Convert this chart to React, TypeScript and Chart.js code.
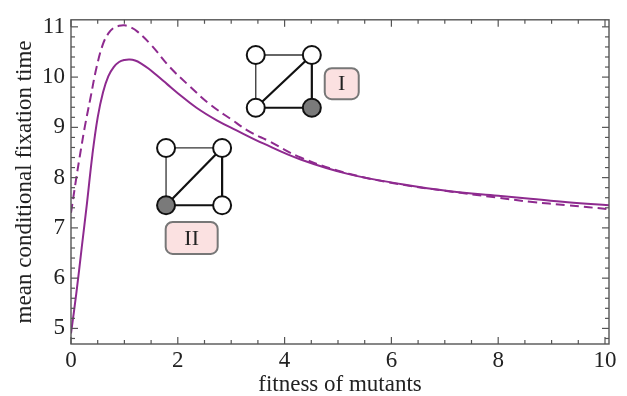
import React, { useEffect, useRef } from "react";
import { Chart, registerables } from "chart.js";

Chart.register(...registerables);

// ---- data ----
const solidX = [0, 0.1, 0.2, 0.3, 0.4, 0.5, 0.6, 0.7, 0.8, 0.9, 1.0, 1.1, 1.2, 1.3, 1.45, 1.6, 1.8, 2.0, 2.35, 2.73, 3.1, 3.6, 4.3, 5.2, 6.2, 7.1, 8.0, 8.6, 9.3, 10.1];
const solidY = [4.9, 5.7, 6.6, 7.5, 8.45, 9.2, 9.7, 10.02, 10.2, 10.3, 10.34, 10.35, 10.33, 10.28, 10.17, 10.04, 9.86, 9.68, 9.39, 9.14, 8.94, 8.68, 8.36, 8.07, 7.87, 7.73, 7.64, 7.58, 7.51, 7.45];

const dashedX = [0, 0.05, 0.1, 0.15, 0.2, 0.26, 0.36, 0.48, 0.6, 0.7, 0.8, 0.9, 1.0, 1.1, 1.25, 1.5, 1.85, 2.2, 2.6, 3.0, 3.35, 3.7, 4.3, 5.2, 6.2, 7.0, 8.0, 8.6, 9.3, 10.1];
const dashedY = [7.3, 7.65, 8.0, 8.33, 8.65, 9.02, 9.56, 10.2, 10.66, 10.87, 10.98, 11.02, 11.03, 11.0, 10.9, 10.64, 10.2, 9.84, 9.46, 9.16, 8.91, 8.73, 8.4, 8.08, 7.86, 7.74, 7.6, 7.52, 7.45, 7.37];

const xTickStep = 2;
const yTickStep = 1;
const xLabel = "fitness of mutants";
const yLabel = "mean conditional fixation time";
const graphLabels = ["I", "II"];

// ---- layout / style (not data) ----
const X_MIN = 0;
const X_MAX = 10.075;
const Y_MIN = 4.69;
const Y_MAX = 11.14;
const X_MINOR = 0.5;
const Y_MINOR = 0.2;
const FONT = "'Liberation Serif', 'DejaVu Serif', serif";
const PURPLE = "#8e2a8f";
const TEXT = "#222";

// inset graphs positioned in data coordinates
const insets = [
  {
    left: 3.46, right: 4.51, top: 10.44, bottom: 9.39,
    grayNode: "br",
    box: { cx: 5.07, cy: 9.87, w: 34, h: 31 },
  },
  {
    left: 1.78, right: 2.83, top: 8.59, bottom: 7.45,
    grayNode: "bl",
    box: { cx: 2.26, cy: 6.8, w: 52, h: 32 },
  },
];

const decoPlugin = {
  id: "decoPlugin",
  afterDatasetsDraw(chart: any) {
    const { ctx, scales } = chart;
    const xs = scales.x;
    const ys = scales.y;
    ctx.save();
    insets.forEach((g, gi) => {
      const l = xs.getPixelForValue(g.left);
      const r = xs.getPixelForValue(g.right);
      const t = ys.getPixelForValue(g.top);
      const b = ys.getPixelForValue(g.bottom);
      const nodes: Record<string, [number, number]> = {
        tl: [l, t], tr: [r, t], bl: [l, b], br: [r, b],
      };
      const edge = (a: string, c: string, w: number, col: string) => {
        ctx.beginPath();
        ctx.moveTo(nodes[a][0], nodes[a][1]);
        ctx.lineTo(nodes[c][0], nodes[c][1]);
        ctx.lineWidth = w;
        ctx.strokeStyle = col;
        ctx.stroke();
      };
      edge("tl", "tr", 1.3, "#333");
      edge("tl", "bl", 1.3, "#333");
      edge("tr", "br", 2.2, "#111");
      edge("bl", "br", 2.2, "#111");
      edge("bl", "tr", 2.2, "#111");
      Object.keys(nodes).forEach((k) => {
        ctx.beginPath();
        ctx.arc(nodes[k][0], nodes[k][1], 9, 0, Math.PI * 2);
        ctx.fillStyle = k === g.grayNode ? "#7a7a7a" : "#fff";
        ctx.fill();
        ctx.lineWidth = 2;
        ctx.strokeStyle = "#111";
        ctx.stroke();
      });
      // label box
      const cx = xs.getPixelForValue(g.box.cx);
      const cy = ys.getPixelForValue(g.box.cy);
      const w = g.box.w;
      const h = g.box.h;
      const rad = 7;
      const x0 = cx - w / 2;
      const y0 = cy - h / 2;
      ctx.beginPath();
      ctx.moveTo(x0 + rad, y0);
      ctx.arcTo(x0 + w, y0, x0 + w, y0 + h, rad);
      ctx.arcTo(x0 + w, y0 + h, x0, y0 + h, rad);
      ctx.arcTo(x0, y0 + h, x0, y0, rad);
      ctx.arcTo(x0, y0, x0 + w, y0, rad);
      ctx.closePath();
      ctx.fillStyle = "#fbe1e1";
      ctx.fill();
      ctx.lineWidth = 2;
      ctx.strokeStyle = "#777";
      ctx.stroke();
      ctx.fillStyle = TEXT;
      ctx.font = `22px ${FONT}`;
      ctx.textAlign = "center";
      ctx.textBaseline = "middle";
      ctx.fillText(graphLabels[gi], cx, cy + 1);
    });
    ctx.restore();
  },
  afterDraw(chart: any) {
    const { ctx, chartArea: a, scales } = chart;
    const xs = scales.x;
    const ys = scales.y;
    ctx.save();
    ctx.strokeStyle = "#555";
    ctx.lineWidth = 1.2;
    const seg = (x1: number, y1: number, x2: number, y2: number) => {
      ctx.beginPath();
      ctx.moveTo(x1, y1);
      ctx.lineTo(x2, y2);
      ctx.stroke();
    };
    const kx0 = Math.ceil(X_MIN / X_MINOR - 1e-9);
    const kx1 = Math.floor(X_MAX / X_MINOR + 1e-9);
    const perX = Math.round(xTickStep / X_MINOR);
    for (let k = kx0; k <= kx1; k++) {
      const p = xs.getPixelForValue(k * X_MINOR);
      const len = k % perX === 0 ? 7 : 4;
      seg(p, a.bottom, p, a.bottom - len);
      seg(p, a.top, p, a.top + len);
    }
    const ky0 = Math.ceil(Y_MIN / Y_MINOR - 1e-9);
    const ky1 = Math.floor(Y_MAX / Y_MINOR + 1e-9);
    const perY = Math.round(yTickStep / Y_MINOR);
    for (let k = ky0; k <= ky1; k++) {
      const p = ys.getPixelForValue(k * Y_MINOR);
      const len = k % perY === 0 ? 7 : 4;
      seg(a.left, p, a.left + len, p);
      seg(a.right, p, a.right - len, p);
    }
    ctx.lineWidth = 1.4;
    ctx.strokeRect(a.left, a.top, a.right - a.left, a.bottom - a.top);
    ctx.restore();
  },
};

export default function App() {
  const ref = useRef<HTMLCanvasElement>(null);
  useEffect(() => {
    const solid = solidX.map((x, i) => ({ x, y: solidY[i] }));
    const dashed = dashedX.map((x, i) => ({ x, y: dashedY[i] }));
    const chart = new Chart(ref.current as HTMLCanvasElement, {
      type: "line",
      data: {
        datasets: [
          {
            data: solid,
            borderColor: PURPLE,
            borderWidth: 2,
            pointRadius: 0,
            tension: 0.4,
            fill: false,
          },
          {
            data: dashed,
            borderColor: PURPLE,
            borderWidth: 2,
            borderDash: [9, 5],
            pointRadius: 0,
            tension: 0.4,
            fill: false,
          },
        ],
      },
      options: {
        animation: false,
        responsive: false,
        devicePixelRatio: 1,
        layout: { padding: { left: 0, right: 18, top: 12, bottom: 0 } },
        plugins: { legend: { display: false }, tooltip: { enabled: false } },
        scales: {
          x: {
            type: "linear",
            min: X_MIN,
            max: X_MAX,
            grid: { display: false, drawTicks: false },
            border: { display: false },
            ticks: {
              stepSize: xTickStep,
              includeBounds: false,
              padding: 3,
              maxRotation: 0,
              autoSkip: false,
              color: TEXT,
              font: { family: FONT, size: 23 },
            },
            title: {
              display: true,
              text: xLabel,
              color: TEXT,
              font: { family: FONT, size: 23, lineHeight: 1 },
              padding: { top: 0, bottom: 0 },
            },
            afterFit: (s: any) => {
              s.height = 52;
            },
          },
          y: {
            type: "linear",
            min: Y_MIN,
            max: Y_MAX,
            grid: { display: false, drawTicks: false },
            border: { display: false },
            ticks: {
              stepSize: yTickStep,
              includeBounds: false,
              padding: 6,
              color: TEXT,
              font: { family: FONT, size: 23 },
            },
            title: {
              display: true,
              text: yLabel,
              color: TEXT,
              font: { family: FONT, size: 23, lineHeight: 1 },
              padding: { top: 13.5, bottom: 0 },
            },
            afterFit: (s: any) => {
              s.width = 71;
            },
          },
        },
      } as any,
      plugins: [decoPlugin],
    });
    return () => chart.destroy();
  }, []);
  return (
    <div style={{ position: "absolute", left: 0, top: 0, width: 627, height: 396, background: "#fff" }}>
      <canvas ref={ref} width={627} height={396} style={{ display: "block" }} />
    </div>
  );
}
